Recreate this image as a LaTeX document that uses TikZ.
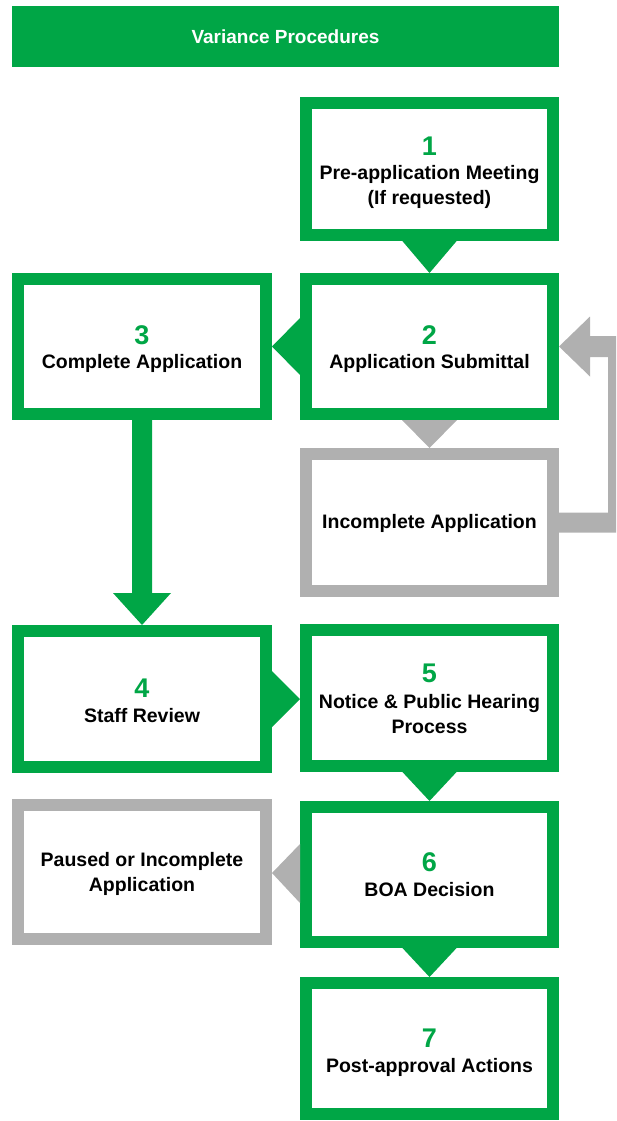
\documentclass[tikz,border=0pt]{standalone}
\usepackage{fontspec}
\setmainfont{Liberation Sans}
\usetikzlibrary{calc}
\definecolor{grn}{RGB}{0,166,70}
\definecolor{gry}{RGB}{176,176,176}
\begin{document}
\begin{tikzpicture}[x=1pt,y=-1pt,
  gbox/.style={draw=grn,line width=12pt,inner sep=0pt,fill=white},
  ybox/.style={draw=gry,line width=12pt,inner sep=0pt,fill=white},
  rcol/.style={minimum width=247pt},
  lcol/.style={minimum width=248pt},
  lbl/.style={font=\bfseries\fontsize{19.5}{25}\selectfont,align=center,inner sep=0pt,text=black},
  num/.style={font=\bfseries\fontsize{27}{30}\selectfont,inner sep=0pt,text=grn}]
\useasboundingbox (0,0) rectangle (616,1121);
\clip (0,0) rectangle (616,1121);
% title
\node[fill=grn,minimum width=547pt,minimum height=61pt,inner sep=0pt,text=white,
  font=\bfseries\fontsize{19}{23}\selectfont] (title) at (285.5,36.5) {Variance Procedures};
% boxes (anchors lie on the outer edge of the 12pt borders)
\node[gbox,rcol,minimum height=132pt] (b1) at (429.5,169) {};
\node[gbox,rcol,minimum height=135pt] (b2) at (429.5,346.5) {};
\node[gbox,lcol,minimum height=135pt] (b3) at (142,346.5) {};
\node[ybox,rcol,minimum height=137pt] (inc) at (429.5,522.5) {};
\node[gbox,lcol,minimum height=136pt] (b4) at (142,699) {};
\node[gbox,rcol,minimum height=136pt] (b5) at (429.5,698) {};
\node[gbox,rcol,minimum height=135pt] (b6) at (429.5,874.5) {};
\node[ybox,lcol,minimum height=134pt] (pau) at (142,872) {};
\node[gbox,rcol,minimum height=131pt] (b7) at (429.5,1048.5) {};
% connectors
\fill[grn] ($(b1.south)+(-28,-1)$) -- ($(b1.south)+(28,-1)$) -- (b2.north) -- cycle;
\fill[gry] ($(b2.south)+(-27.5,0)$) -- ($(b2.south)+(27.5,0)$) -- (inc.north) -- cycle;
\fill[grn] ($(b2.west)+(1,-29.5)$) -- ($(b2.west)+(1,29.5)$) -- (b3.east) -- cycle;
\fill[grn] ($(b3.south)+(-10,-1)$) -- ($(b3.south)+(-10,173)$) -- ($(b3.south)+(-29,173)$)
  -- (b4.north) -- ($(b3.south)+(29,173)$) -- ($(b3.south)+(10,173)$)
  -- ($(b3.south)+(10,-1)$) -- cycle;
\fill[grn] ($(b4.east)+(-1,-29)$) -- ($(b4.east)+(-1,29)$) -- ($(b5.west)+(0,1)$) -- cycle;
\fill[grn] ($(b5.south)+(-28,-1)$) -- ($(b5.south)+(28,-1)$) -- (b6.north) -- cycle;
\fill[gry] ($(b6.west)+(0,-30.5)$) -- ($(b6.west)+(0,28.5)$) -- ($(pau.east)+(0,1)$) -- cycle;
\fill[grn] ($(b6.south)+(-28,-1)$) -- ($(b6.south)+(28,-1)$) -- (b7.north) -- cycle;
% loop back arrow
\fill[gry] ($(inc.east)+(0,-10)$) -- ($(inc.east)+(49,-10)$) -- ($(b2.east)+(49,10.5)$)
  -- ($(b2.east)+(31,10.5)$) -- ($(b2.east)+(31,30)$) -- (b2.east)
  -- ($(b2.east)+(31,-30)$) -- ($(b2.east)+(31,-10.5)$) -- ($(b2.east)+(71,-10.5)$)
  -- ($(inc.east)+(71,10)$) -- ($(inc.east)+(0,10)$) -- cycle;
% texts
\node[num] (n1) at ($(b1)+(0,-23)$) {1};
\node[lbl] (t1) at ($(b1)+(0,17.5)$) {Pre-application Meeting\\(If requested)};
\node[num] (n2) at ($(b2)+(0,-11.5)$) {2};
\node[lbl] (t2) at ($(b2)+(0,16.5)$) {Application Submittal};
\node[num] (n3) at ($(b3)+(0,-11.5)$) {3};
\node[lbl] (t3) at ($(b3)+(0,16.5)$) {Complete Application};
\node[lbl] (tinc) at ($(inc)+(0,0.5)$) {Incomplete Application};
\node[num] (n4) at ($(b4)+(0,-11)$) {4};
\node[lbl] (t4) at ($(b4)+(0,17)$) {Staff Review};
\node[num] (n5) at ($(b5)+(0,-25)$) {5};
\node[lbl] (t5) at ($(b5)+(0,16.5)$) {Notice \& Public Hearing\\Process};
\node[num] (n6) at ($(b6)+(0,-12.5)$) {6};
\node[lbl] (t6) at ($(b6)+(0,15.5)$) {BOA Decision};
\node[lbl] (tpau) at ($(pau)+(0,1.5)$) {Paused or Incomplete\\Application};
\node[num] (n7) at ($(b7)+(0,-10.5)$) {7};
\node[lbl] (t7) at ($(b7)+(0,18.5)$) {Post-approval Actions};
\end{tikzpicture}
\end{document}
